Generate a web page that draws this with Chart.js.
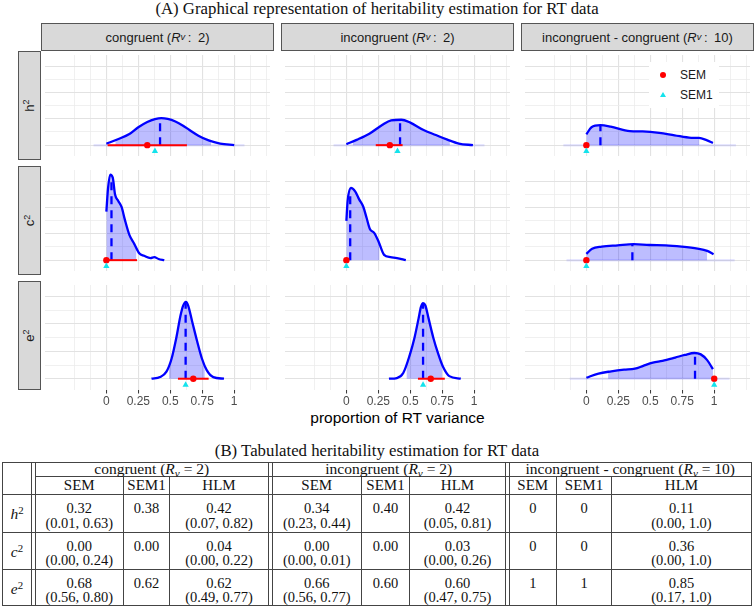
<!DOCTYPE html>
<html>
<head>
<meta charset="utf-8">
<title>Heritability estimation for RT data</title>
<script src="https://cdn.jsdelivr.net/npm/chart.js@4.4.1/dist/chart.umd.min.js"></script>
<style>
  html, body { margin: 0; padding: 0; background: #fff; }
  #page { position: relative; width: 754px; height: 606px; overflow: hidden; font-family: "Liberation Sans", Arial, sans-serif; }
  .abs { position: absolute; }
  .serif { font-family: "Liberation Serif", "Times New Roman", serif; color: #111; }
  .ttl { left: 0; width: 754px; text-align: center; font-size: 16.8px; line-height: 17px; }
  .strip { position: absolute; background: #d9d9d9; border: 1px solid #555; box-sizing: border-box;
           display: flex; align-items: center; justify-content: center; font-size: 13px; color: #1a1a1a; white-space: nowrap; }
  .strip sub { font-size: 72%; line-height: 0; vertical-align: -0.3em; }
  .strip sup, .cell sup { font-size: 70%; line-height: 0; vertical-align: 0.5em; }
  .cell sub { font-size: 72%; line-height: 0; vertical-align: -0.25em; }
  .rot { transform: rotate(-90deg); display: inline-block; }
  canvas { position: absolute; }
  .tline { position: absolute; background: #444; }
  .cell { position: absolute; text-align: center; font-size: 14.5px; line-height: 14.5px; white-space: nowrap; }
  .key { position: absolute; font-size: 12px; line-height: 14px; color: #1a1a1a; }
</style>
</head>
<body>
<div id="page">
  <div class="abs serif ttl" style="top:0px">(A) Graphical representation of heritability estimation for RT data</div>
  <div class="abs" style="left:41px;width:713px;top:409px;text-align:center;font-size:15.5px;line-height:18px;color:#000">proportion of RT variance</div>
  <div class="abs serif ttl" style="top:442px">(B) Tabulated heritability estimation for RT data</div>
</div>
<script>
// facets
const conditions = ['congruent', 'incongruent', 'incongruent - congruent'];
const conditionRv = ['2', '2', '10'];
const components = ['h', 'c', 'e'];
const methods = ['SEM', 'SEM1', 'HLM'];

// posterior densities (x = proportion, y = density in grid units)
const h2Congruent = [[0,0.11],[0.09,0.45],[0.18,0.84],[0.25,1.36],[0.32,1.76],[0.38,1.98],[0.43,2.06],[0.48,2.0],[0.54,1.8],[0.6,1.48],[0.65,1.15],[0.72,0.72],[0.8,0.36],[0.89,0.12],[1.0,0.01]];
const h2Incongruent = [[0,0.07],[0.08,0.4],[0.18,0.87],[0.28,1.53],[0.35,1.88],[0.43,1.93],[0.5,1.71],[0.6,1.17],[0.7,0.77],[0.79,0.42],[0.88,0.12],[0.99,0]];
const h2Difference = [[0,0.82],[0.04,1.36],[0.11,1.52],[0.19,1.41],[0.34,1.06],[0.44,1.04],[0.57,0.94],[0.69,0.75],[0.82,0.56],[0.88,0.55],[0.94,0.38],[0.99,0.16]];
const c2Congruent = [[0,3.69],[0.013,5.45],[0.03,6.5],[0.05,6.27],[0.068,4.98],[0.093,4.5],[0.119,4.04],[0.144,3.1],[0.18,1.92],[0.219,1.22],[0.257,0.52],[0.295,0.33],[0.345,0.16],[0.375,0.23],[0.408,0.09],[0.453,0]];
const c2Incongruent = [[0,2.98],[0.01,4.5],[0.035,5.49],[0.07,5.21],[0.1,4.62],[0.133,4.04],[0.158,3.22],[0.183,2.39],[0.22,2.04],[0.25,1.46],[0.295,0.4],[0.345,0.23],[0.395,0.16],[0.465,0]];
const c2Difference = [[0,0.47],[0.045,0.87],[0.12,1.03],[0.245,1.13],[0.37,1.22],[0.495,1.15],[0.62,1.13],[0.745,1.03],[0.87,0.87],[0.945,0.7],[0.995,0.45]];
const e2Congruent = [[0.353,0],[0.42,0.12],[0.47,0.52],[0.51,1.46],[0.547,2.98],[0.58,4.62],[0.6,5.33],[0.622,5.62],[0.64,5.35],[0.672,4.15],[0.71,2.74],[0.748,1.46],[0.785,0.63],[0.836,0.12],[0.92,0]];
const e2Incongruent = [[0.333,0],[0.395,0.05],[0.445,0.42],[0.495,1.71],[0.533,3.0],[0.565,4.41],[0.583,5.23],[0.6,5.52],[0.618,5.35],[0.643,4.41],[0.68,3.0],[0.718,1.83],[0.755,0.89],[0.805,0.19],[0.895,0]];
const e2Difference = [[0,0.07],[0.095,0.38],[0.195,0.54],[0.295,0.66],[0.38,0.73],[0.445,0.94],[0.52,1.17],[0.595,1.31],[0.695,1.55],[0.77,1.74],[0.845,1.88],[0.895,1.78],[0.945,1.36],[0.99,0.7]];
const curves = [
  [h2Congruent, h2Incongruent, h2Difference],
  [c2Congruent, c2Incongruent, c2Difference],
  [e2Congruent, e2Incongruent, e2Difference]
];

// estimates (rows: h2, c2, e2; cols: congruent, incongruent, difference)
const hlmEst  = [[0.42, 0.42, 0.11], [0.04, 0.03, 0.36], [0.62, 0.60, 0.85]];
const hdiLow  = [[0.07, 0.05, 0.00], [0.00, 0.00, 0.00], [0.49, 0.47, 0.17]];
const hdiHigh = [[0.82, 0.81, 0.885], [0.235, 0.26, 0.945], [0.77, 0.75, 1.0]];
const semEst  = [[0.32, 0.34, 0], [0.00, 0.00, 0], [0.68, 0.66, 1]];
const semLow  = [[0.01, 0.23, null], [0.00, 0.00, null], [0.56, 0.56, null]];
const semHigh = [[0.63, 0.44, null], [0.24, 0.01, null], [0.80, 0.77, null]];
const sem1Est = [[0.38, 0.40, 0], [0.00, 0.00, 0], [0.62, 0.60, 1]];
const bandLow  = [[-0.1, -0.1, -0.18], [null, null, -0.155], [null, null, -0.13]];
const bandHigh = [[1.08, 1.08, 1.17], [null, null, 1.16], [null, null, 1.12]];

// axes
const xTickValues = [0, 0.25, 0.5, 0.75, 1];
const xTickLabels = ['0', '0.25', '0.5', '0.75', '1'];
const xGridValues = [-0.25, -0.125, 0, 0.125, 0.25, 0.375, 0.5, 0.625, 0.75, 0.875, 1, 1.125, 1.25];
const yGridValues = [0, 1, 2, 3, 4, 5, 6];

// table text (per component row: 9 cells of [estimate, interval])
const tableH2 = [['0.32','(0.01, 0.63)'],['0.38',''],['0.42','(0.07, 0.82)'],['0.34','(0.23, 0.44)'],['0.40',''],['0.42','(0.05, 0.81)'],['0',''],['0',''],['0.11','(0.00, 1.0)']];
const tableC2 = [['0.00','(0.00, 0.24)'],['0.00',''],['0.04','(0.00, 0.22)'],['0.00','(0.00, 0.01)'],['0.00',''],['0.03','(0.00, 0.26)'],['0',''],['0',''],['0.36','(0.00, 1.0)']];
const tableE2 = [['0.68','(0.56, 0.80)'],['0.62',''],['0.62','(0.49, 0.77)'],['0.66','(0.56, 0.77)'],['0.60',''],['0.60','(0.47, 0.75)'],['1',''],['1',''],['0.85','(0.17, 1.0)']];
const tableRows = [tableH2, tableC2, tableE2];

const page = document.getElementById('page');
function el(tag, cls, style, html) {
  const d = document.createElement(tag);
  if (cls) d.className = cls;
  if (style) d.style.cssText = style;
  if (html != null) d.innerHTML = html;
  page.appendChild(d);
  return d;
}

// ---------- panel grid ----------
const colLeft = [41, 281, 521];
const rowTop = [51, 166, 281];
const PW = 233, PH = 109, AXIS_H = 20;

function curveAt(curve, x) {
  for (let i = 1; i < curve.length; i++) {
    const [x0, y0] = curve[i - 1], [x1, y1] = curve[i];
    if (x >= x0 && x <= x1) return y0 + (y1 - y0) * (x - x0) / (x1 - x0);
  }
  return 0;
}
function clipCurve(curve, lo, hi) {
  const a = Math.max(lo, curve[0][0]), b = Math.min(hi, curve[curve.length - 1][0]);
  const pts = [{x: a, y: curveAt(curve, a)}];
  curve.forEach(([x, y]) => { if (x > a && x < b) pts.push({x: x, y: y}); });
  pts.push({x: b, y: curveAt(curve, b)});
  return pts;
}
const isMajorX = v => xTickValues.includes(v);

function drawPanel(r, c) {
  const bottom = r === 2;
  const cv = el('canvas', '', `left:${colLeft[c]}px;top:${rowTop[r]}px`);
  cv.width = PW; cv.height = PH + (bottom ? AXIS_H : 0);
  const curve = curves[r][c];
  const hlm = hlmEst[r][c];
  const datasets = [
    {data: [{x: sem1Est[r][c], y: -0.45}], pointStyle: 'triangle', pointRadius: 3.6, backgroundColor: '#14e3ec', borderWidth: 0},
    {data: [{x: semEst[r][c], y: 0}], pointStyle: 'circle', pointRadius: 3.2, backgroundColor: '#ff0000', borderWidth: 0}
  ];
  if (semLow[r][c] != null) {
    datasets.push({data: [{x: semLow[r][c], y: 0}, {x: semHigh[r][c], y: 0}], showLine: true,
      borderColor: '#ff0000', borderWidth: 2, pointRadius: 0});
  }
  datasets.push(
    {data: [{x: hlm, y: 0}, {x: hlm, y: curveAt(curve, hlm)}], showLine: true,
      borderColor: '#0000ff', borderWidth: 2.3, borderDash: [8, 6], pointRadius: 0},
    {data: curve.map(p => ({x: p[0], y: p[1]})), showLine: true, borderColor: '#0000ff',
      borderWidth: 2.3, pointRadius: 0, cubicInterpolationMode: 'monotone'},
    {data: clipCurve(curve, hdiLow[r][c], hdiHigh[r][c]), showLine: true, borderWidth: 0,
      borderColor: 'rgba(0,0,0,0)', backgroundColor: 'rgba(0,0,255,0.26)', fill: 'origin',
      pointRadius: 0, cubicInterpolationMode: 'monotone'}
  );
  if (bandLow[r][c] != null) {
    datasets.push({data: [{x: bandLow[r][c], y: 0}, {x: bandHigh[r][c], y: 0}], showLine: true,
      borderColor: 'rgba(60,60,255,0.13)', borderWidth: 2.5, pointRadius: 0});
  }
  new Chart(cv, {
    type: 'scatter',
    data: {datasets: datasets},
    options: {
      responsive: false, animation: false, events: [],
      layout: {padding: 0},
      plugins: {legend: {display: false}, tooltip: {enabled: false}},
      scales: {
        x: {
          type: 'linear', min: -0.48, max: 1.28,
          border: {display: false},
          afterBuildTicks: s => { s.ticks = xGridValues.map(v => ({value: v})); },
          afterFit: s => { s.height = bottom ? AXIS_H : 0; },
          grid: {
            color: ctx => isMajorX(ctx.tick.value) ? '#e2e2e2' : '#ececec',
            lineWidth: ctx => isMajorX(ctx.tick.value) ? 1.1 : 0.8,
            drawTicks: bottom, tickLength: 3.5, tickWidth: 1,
            tickColor: ctx => isMajorX(ctx.tick.value) ? '#333333' : 'rgba(0,0,0,0)'
          },
          ticks: {
            display: bottom, autoSkip: false, maxRotation: 0, padding: 1,
            color: '#4d4d4d', font: {family: 'Liberation Sans', size: 12},
            callback: v => { const i = xTickValues.indexOf(v); return i >= 0 ? xTickLabels[i] : ''; }
          }
        },
        y: {
          type: 'linear', min: -0.824, max: 6.85,
          border: {display: false},
          afterBuildTicks: s => { s.ticks = yGridValues.map(v => ({value: v})); },
          afterFit: s => { s.width = 0; },
          grid: {
            color: ctx => ctx.tick.value % 2 === 0 ? '#e2e2e2' : '#ececec',
            lineWidth: ctx => ctx.tick.value % 2 === 0 ? 1.1 : 0.8,
            drawTicks: false
          },
          ticks: {display: false}
        }
      }
    }
  });
}

for (let r = 0; r < 3; r++) for (let c = 0; c < 3; c++) drawPanel(r, c);

// strips
conditions.forEach((name, c) => {
  el('div', 'strip', `left:${colLeft[c]}px;top:23px;width:${PW}px;height:28px`,
    `${name}&nbsp;(<i>R</i><sub><i>v</i></sub>&thinsp;:&ensp;${conditionRv[c]})`);
});
components.forEach((comp, r) => {
  el('div', 'strip', `left:18px;top:${rowTop[r]}px;width:23px;height:${PH}px`,
    `<span class="rot">${comp}<sup>2</sup></span>`);
});

// legend
el('div', '', 'position:absolute;left:649px;top:62px;width:70px;height:46px;background:#fff');
el('div', '', 'position:absolute;left:660px;top:72px;width:6.4px;height:6.4px;border-radius:50%;background:#ff0000');
el('div', 'key', 'left:680px;top:68px', methods[0]);
el('div', '', 'position:absolute;left:659.5px;top:92px;width:0;height:0;border-left:3.3px solid transparent;border-right:3.3px solid transparent;border-bottom:5.6px solid #14e3ec');
el('div', 'key', 'left:680px;top:88px', methods[1]);

// ---------- table ----------
const colEdges = [2, 31, 123, 169, 268, 361, 409, 505, 556, 611, 751];
const doubleAt = [1, 4, 7];
const rowEdges = [462, 475.5, 494, 531.5, 568.5, 605];
const DBL = 3.5;
const cellLeft = k => colEdges[k] + (doubleAt.includes(k) ? DBL + 1 : 1);

function hline(y, x0, x1) { el('div', 'tline', `left:${x0}px;top:${y}px;width:${x1 - x0 + 1}px;height:1px`); }
function vline(x, y0, y1) { el('div', 'tline', `left:${x}px;top:${y0}px;width:1px;height:${y1 - y0 + 1}px`); }

const tTop = rowEdges[0], tBot = rowEdges[rowEdges.length - 1];
[0, 2, 3, 4, 5].forEach(i => hline(rowEdges[i], colEdges[0], colEdges[10]));
hline(rowEdges[1], colEdges[1] + DBL, colEdges[10]);
vline(colEdges[0], tTop, tBot);
vline(colEdges[10], tTop, tBot);
doubleAt.forEach(k => { vline(colEdges[k], tTop, tBot); vline(colEdges[k] + DBL, tTop, tBot); });
colEdges.forEach((x, k) => {
  if (k > 0 && k < 10 && !doubleAt.includes(k)) vline(x, rowEdges[1], tBot);
});

const tableGroups = conditions.map((name, c) => `${name} (<i>R<sub>v</sub></i> = ${conditionRv[c]})`);
tableGroups.forEach((txt, g) => {
  const k0 = 1 + g * 3;
  const x0 = cellLeft(k0), x1 = colEdges[k0 + 3];
  el('div', 'cell serif', `left:${x0}px;width:${x1 - x0}px;top:${rowEdges[0]}px;line-height:14px;font-size:15.5px`, txt);
});
for (let k = 1; k < 10; k++) {
  const x0 = cellLeft(k), x1 = colEdges[k + 1];
  el('div', 'cell serif', `left:${x0}px;width:${x1 - x0}px;top:${rowEdges[1] + 2}px;font-size:15px`, methods[(k - 1) % 3]);
}
tableRows.forEach((cells, i) => {
  const top = rowEdges[i + 2];
  el('div', 'cell serif', `left:${cellLeft(0)}px;width:${colEdges[1] - cellLeft(0)}px;top:${top + 12}px;font-size:15.5px;line-height:15px`,
    `<i>${components[i]}</i><sup>2</sup>`);
  cells.forEach((cell, j) => {
    const k = j + 1;
    const x0 = cellLeft(k), x1 = colEdges[k + 1];
    el('div', 'cell serif', `left:${x0}px;width:${x1 - x0}px;top:${top + 7}px`,
      cell[0] + (cell[1] ? '<br>' + cell[1] : ''));
  });
});
</script>
</body>
</html>
